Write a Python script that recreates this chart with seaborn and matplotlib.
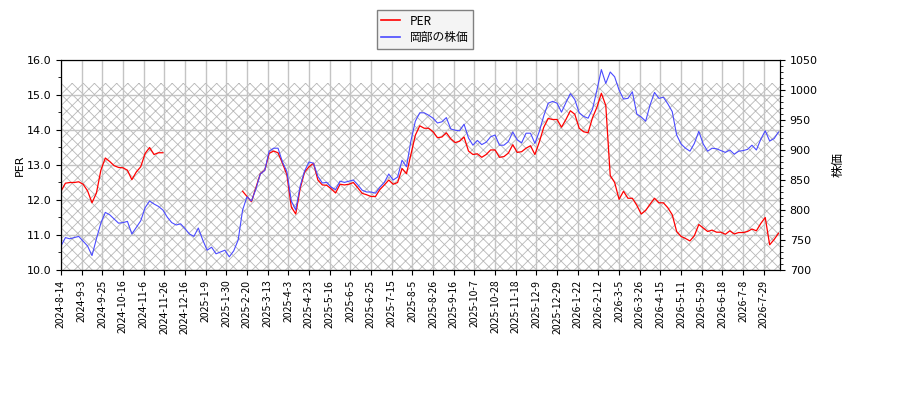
import numpy as np
import pandas as pd
import matplotlib
matplotlib.use("Agg")
import matplotlib.pyplot as plt
import seaborn as sns
from matplotlib.ticker import MultipleLocator, FormatStrFormatter
from matplotlib.lines import Line2D

# trading-day step between stored samples, and between x tick labels
step = 3
tick_every = 14

tick_labels = ["2024-8-14", "2024-9-3", "2024-9-25", "2024-10-16", "2024-11-6",
               "2024-11-26", "2024-12-16", "2025-1-9", "2025-1-30", "2025-2-20",
               "2025-3-13", "2025-4-3", "2025-4-23", "2025-5-16", "2025-6-5",
               "2025-6-25", "2025-7-15", "2025-8-5", "2025-8-26", "2025-9-16",
               "2025-10-7", "2025-10-28", "2025-11-18", "2025-12-9", "2025-12-29",
               "2026-1-22", "2026-2-12", "2026-3-5", "2026-3-26", "2026-4-15",
               "2026-5-11", "2026-5-29", "2026-6-18", "2026-7-8", "2026-7-29"]

# stock price (right axis), one value every 3 trading days
price = [740, 754, 752, 754, 756, 748, 740, 724, 752, 778,
         796, 792, 785, 778, 779, 781, 760, 771, 782, 804,
         815, 810, 806, 800, 788, 779, 775, 777, 769, 760,
         756, 770, 750, 733, 738, 727, 730, 733, 722, 732,
         750, 800, 822, 815, 835, 860, 866, 898, 903, 903,
         880, 864, 815, 800, 840, 865, 880, 878, 856, 845,
         846, 838, 834, 848, 846, 848, 850, 842, 833, 830,
         830, 828, 838, 846, 860, 850, 855, 883, 872, 915,
         948, 962, 962, 958, 953, 945, 947, 954, 935, 933,
         932, 943, 920, 908, 916, 909, 913, 922, 925, 908,
         908, 914, 930, 917, 912, 928, 928, 911, 931, 957,
         978, 981, 978, 963, 979, 994, 984, 962, 956, 953,
         968, 1000, 1034, 1011, 1030, 1022, 1000, 985, 986, 997,
         960, 955, 948, 975, 996, 986, 988, 977, 964, 925,
         910, 903, 898, 911, 931, 910, 898, 903, 902, 899,
         896, 900, 893, 898, 899, 901, 908, 900, 918, 932,
         915, 919, 930]

# PER (left axis), None where no value was published
per = [12.25, 12.48, 12.5, 12.5, 12.52, 12.45, 12.26, 11.92, 12.2, 12.85,
       13.2, 13.1, 12.98, 12.93, 12.92, 12.85, 12.58, 12.8, 12.95, 13.33,
       13.5, 13.3, 13.35, 13.35, None, None, None, None, None, None,
       None, None, None, None, None, None, None, None, None, None,
       None, 12.25, 12.1, 11.95, 12.35, 12.75, 12.85, 13.33, 13.4, 13.35,
       13.05, 12.72, 11.8, 11.6, 12.33, 12.8, 12.95, 13.05, 12.57, 12.43,
       12.42, 12.32, 12.2, 12.45, 12.43, 12.45, 12.5, 12.35, 12.19, 12.15,
       12.1, 12.1, 12.3, 12.43, 12.57, 12.45, 12.5, 12.9, 12.75, 13.3,
       13.85, 14.12, 14.05, 14.05, 13.95, 13.78, 13.8, 13.92, 13.75, 13.64,
       13.68, 13.8, 13.4, 13.3, 13.32, 13.22, 13.3, 13.43, 13.43, 13.22,
       13.24, 13.34, 13.58, 13.36, 13.38, 13.48, 13.55, 13.3, 13.66, 14.08,
       14.33, 14.3, 14.3, 14.08, 14.3, 14.55, 14.45, 14.05, 13.95, 13.92,
       14.35, 14.65, 15.05, 14.7, 12.7, 12.5, 12.02, 12.25, 12.05, 12.05,
       11.85, 11.6, 11.7, 11.88, 12.05, 11.92, 11.92, 11.78, 11.58, 11.1,
       10.96, 10.9, 10.83, 10.98, 11.3, 11.2, 11.1, 11.14, 11.08, 11.08,
       11.02, 11.12, 11.03, 11.07, 11.07, 11.1, 11.17, 11.12, 11.33, 11.5,
       10.72, 10.87, 11.05]

plt.rcParams['font.family'] = ['DejaVu Sans', 'Noto Sans CJK JP']
plt.rcParams['hatch.linewidth'] = 0.6

day = np.arange(len(price)) * step
df = pd.DataFrame({'day': day, 'price': price, 'per': pd.to_numeric(per)})
df['seg'] = df['per'].isna().cumsum()
per_df = df.dropna(subset=['per'])

fig = plt.figure(figsize=(9, 4), dpi=100)
ax = fig.add_axes([61 / 900, 130 / 400, 719 / 900, 210 / 400])
ax2 = ax.twinx()

# hatched band behind the lines
ax.axhspan(10, 15.33, hatch='xxx', fill=False, edgecolor='#b8b8b8',
           lw=0, zorder=0.8)
ax.grid(True, color='#c4c4c4', lw=1)

sns.lineplot(data=per_df, x='day', y='per', units='seg', estimator=None,
             color='red', lw=0.9, ax=ax, legend=False)
sns.lineplot(data=df, x='day', y='price', color='#4a4aff', lw=0.8,
             ax=ax2, legend=False)

ax.set_xlim(0, 487)
ax.set_ylim(10, 16)
ax2.set_ylim(700, 1050)

ax.set_xticks(np.arange(len(tick_labels)) * tick_every)
ax.set_xticklabels(tick_labels, rotation=90, fontsize=7.5, family=['Noto Sans CJK JP'])
ax.yaxis.set_major_locator(MultipleLocator(1))
ax.yaxis.set_minor_locator(MultipleLocator(0.5))
ax.yaxis.set_major_formatter(FormatStrFormatter('%.1f'))
ax2.yaxis.set_major_locator(MultipleLocator(50))
ax2.yaxis.set_minor_locator(MultipleLocator(10))
ax.tick_params(axis='y', labelsize=8)
ax2.tick_params(axis='y', labelsize=8)

ax.set_xlabel('')
ax.set_ylabel('PER', fontsize=8, labelpad=1)
ax2.set_ylabel('株価', fontsize=9, family=['Noto Sans CJK JP'], labelpad=10)

handles = [Line2D([], [], color='red', lw=1.2),
           Line2D([], [], color='#4a4aff', lw=1.2)]
fig.legend(handles, ['PER', '岡部の株価'], loc='upper center',
           bbox_to_anchor=(425 / 900, 0.99), fancybox=False,
           facecolor='#f4f4f4', edgecolor='#808080', framealpha=1,
           prop={'family': 'Noto Sans CJK JP', 'size': 8.5},
           handlelength=1.6, borderpad=0.4, labelspacing=0.3)

fig.savefig('out.png', dpi=100)
